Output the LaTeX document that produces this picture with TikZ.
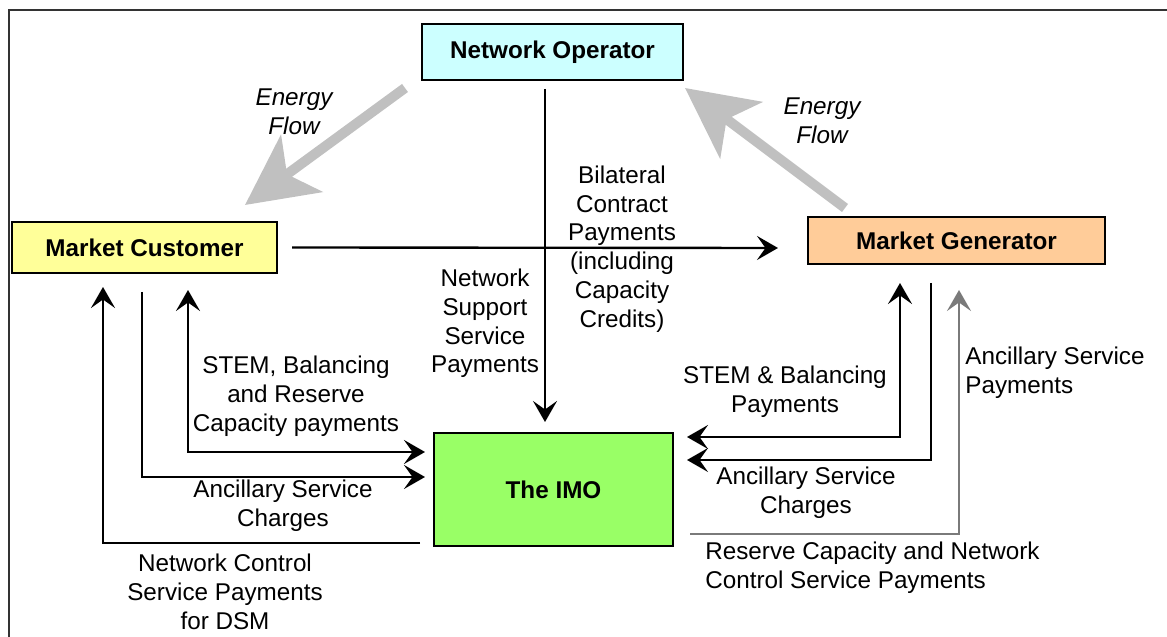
\documentclass[tikz,border=0pt]{standalone}
\usepackage{fontspec}
\setmainfont{Liberation Sans}
\usetikzlibrary{arrows.meta}

\definecolor{opcyan}{HTML}{CCFFFF}
\definecolor{custyellow}{HTML}{FFFF99}
\definecolor{genorange}{HTML}{FFCC99}
\definecolor{imogreen}{HTML}{99FF66}
\definecolor{flowgray}{HTML}{C0C0C0}
\definecolor{paygray}{HTML}{7A7A7A}

\begin{document}
\begin{tikzpicture}[
    box/.style={draw, line width=0.9pt, inner sep=0pt, outer sep=0pt, font={\fontsize{13.8}{16.4}\selectfont\bfseries}},
    lbl/.style={align=center, inner sep=0pt, font={\fontsize{13.8}{16.4}\selectfont}},
    flow/.style={lbl, font={\fontsize{13.8}{16.4}\selectfont\itshape}},
    arrow/.style={-{Stealth[length=4.2mm, width=4.8mm, inset=1.7mm]}, line width=1.35pt},
    twoway/.style={{Stealth[length=4.2mm, width=4.8mm, inset=1.7mm]}-{Stealth[length=4.2mm, width=4.8mm, inset=1.7mm]}, line width=1.35pt},
    energy/.style={-{Stealth[length=1.4cm, width=1.4cm, inset=0.36cm]}, line width=0.2cm, draw=flowgray}
  ]
    \useasboundingbox (0,0) rectangle (23.34,-12.74);
    \draw[line width=0.8pt, draw=black!80] (0.18,-12.74) |- (23.34,-0.2);

    \node[box, fill=opcyan, minimum width=5.22cm, minimum height=1.12cm] (netop) at (11.05,-1.04) {Network Operator};
    \node[box, fill=custyellow, minimum width=5.3cm, minimum height=1.02cm] (cust) at (2.89,-4.95) {Market Customer};
    \node[box, fill=genorange, minimum width=5.94cm, minimum height=0.94cm] (gen) at (19.13,-4.81) {Market Generator};
    \node[box, fill=imogreen, minimum width=4.78cm, minimum height=2.26cm] (imo) at (11.07,-9.79) {The IMO};

    % energy flows
    \draw[energy] ([shift={(-0.34,-0.16)}]netop.south west) -- ([shift={(-0.64,0.34)}]cust.north east);
    \draw[energy] ([shift={(0.74,0.18)}]gen.north west) -- ([shift={(0.04,-0.16)}]netop.south east);
    \node[flow] (flowL) at (5.88,-2.24) {Energy\\Flow};
    \node[flow] (flowR) at (16.44,-2.42) {Energy\\Flow};

    % payments
    \draw[arrow] ([shift={(-0.15,-0.18)}]netop.south) -- ([shift={(-0.17,0.22)}]imo.north);
    \draw[arrow] ([xshift=0.3cm]cust.east) -- ([shift={(-0.6,-0.15)}]gen.west);
    \node[lbl] (bilat) at (12.44,-4.98) {Bilateral\\Contract\\Payments\\(including\\Capacity\\Credits)};
    \node[lbl] (nssp) at (9.7,-6.47) {Network\\Support\\Service\\Payments};

    \draw[arrow] ([shift={(-0.28,0.06)}]imo.south west) -| ([shift={(1.82,-0.28)}]cust.south west);
    \draw[arrow] ([shift={(2.6,-0.38)}]cust.south west) |- ([shift={(-0.18,0.25)}]imo.west);
    \draw[twoway] ([shift={(3.52,-0.34)}]cust.south west) |- ([shift={(-0.18,0.75)}]imo.west);
    \node[lbl] (stemL) at (5.92,-7.93) {STEM, Balancing\\and Reserve\\Capacity payments};
    \node[lbl] (ancL) at (5.66,-10.12) {Ancillary Service\\Charges};
    \node[lbl] (ncsp) at (4.5,-11.84) {Network Control\\Service Payments\\for DSM};

    \draw[twoway] ([shift={(1.84,-0.38)}]gen.south west) |- ([shift={(0.28,1.05)}]imo.east);
    \draw[arrow] ([shift={(2.46,-0.38)}]gen.south west) |- ([shift={(0.28,0.59)}]imo.east);
    \draw[arrow, draw=paygray, line width=1.1pt] ([shift={(0.34,-0.89)}]imo.east) -| ([shift={(3.02,-0.52)}]gen.south west);
    \node[lbl] (stemR) at (15.7,-7.84) {STEM \& Balancing\\Payments};
    \node[lbl] (ancR) at (16.12,-9.85) {Ancillary Service\\Charges};
    \node[lbl, align=left, anchor=west] (ancP) at (19.3,-7.46) {Ancillary Service\\Payments};
    \node[lbl, align=left, anchor=west] (rcnc) at (14.1,-11.36) {Reserve Capacity and Network\\Control Service Payments};
\end{tikzpicture}
\end{document}
